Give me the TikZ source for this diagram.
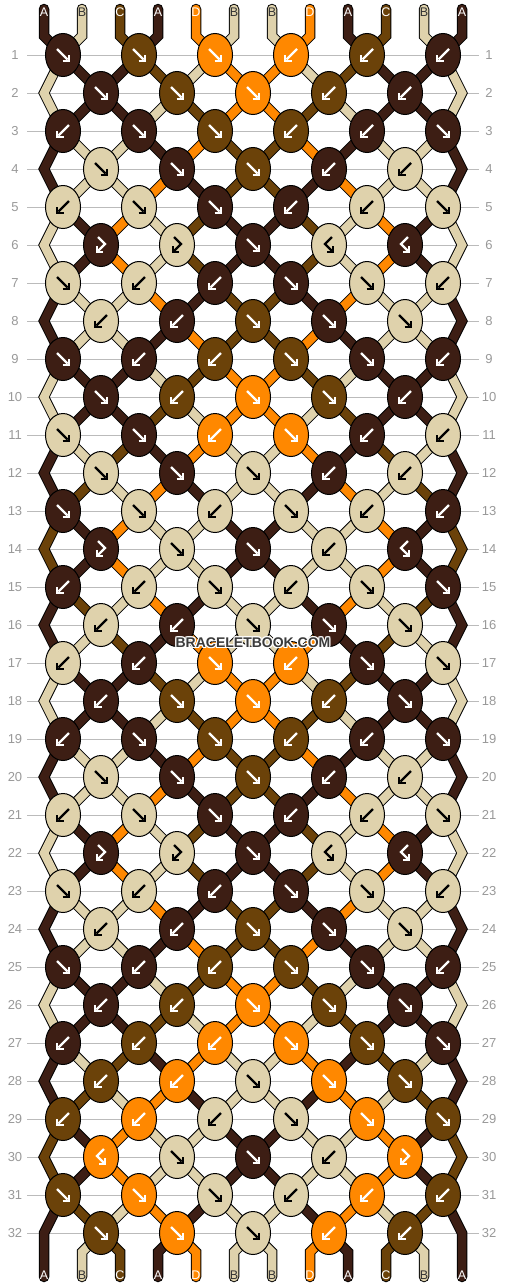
\documentclass[tikz,border=0pt]{standalone}
\usepackage{fontspec}
\setmainfont{Liberation Sans}
\usetikzlibrary{shapes.geometric}
\definecolor{colA}{HTML}{3D1E14}
\definecolor{colB}{HTML}{DFD2AC}
\definecolor{colC}{HTML}{6B4209}
\definecolor{colD}{HTML}{FF8800}
\definecolor{rowgray}{HTML}{BBBBBB}
\definecolor{numgray}{HTML}{999999}
\definecolor{wmgray}{HTML}{3A3A3A}

\newcommand\getP[2]{%
  \pgfmathsetmacro\py{55+38*((#1)-1)}%
  \pgfmathtruncatemacro\myodd{mod(#1,2)}%
  \pgfmathtruncatemacro\mypos{#2}%
  \ifnum\myodd=1\relax
    \pgfmathsetmacro\px{63+76*floor((\mypos-1)/2)}%
  \else
    \ifnum\mypos=1\relax \def\px{44}%
    \else\ifnum\mypos=12\relax \def\px{462}%
    \else \pgfmathsetmacro\px{101+76*floor((\mypos-2)/2)}%
    \fi\fi
  \fi}

\newcommand\drawstrings{%
\foreach \r/\st in {
 0/{A,B,C,A,D,B,B,D,A,C,B,A},
 1/{B,A,A,C,B,D,D,B,C,A,A,B},
 2/{B,A,A,B,C,D,D,C,B,A,A,B},
 3/{A,B,B,A,D,C,C,D,A,B,B,A},
 4/{A,B,B,D,A,C,C,A,D,B,B,A},
 5/{B,A,D,B,C,A,A,C,B,D,A,B},
 6/{B,A,D,B,C,A,A,C,B,D,A,B},
 7/{A,B,B,D,A,C,C,A,D,B,B,A},
 8/{A,B,B,A,D,C,C,D,A,B,B,A},
 9/{B,A,A,B,C,D,D,C,B,A,A,B},
 10/{B,A,A,C,B,D,D,B,C,A,A,B},
 11/{A,B,C,A,D,B,B,D,A,C,B,A},
 12/{A,C,B,D,A,B,B,A,D,B,C,A},
 13/{C,A,D,B,B,A,A,B,B,D,A,C},
 14/{C,A,D,B,B,A,A,B,B,D,A,C},
 15/{A,C,B,D,A,B,B,A,D,B,C,A},
 16/{A,B,C,A,D,B,B,D,A,C,B,A},
 17/{B,A,A,C,B,D,D,B,C,A,A,B},
 18/{B,A,A,B,C,D,D,C,B,A,A,B},
 19/{A,B,B,A,D,C,C,D,A,B,B,A},
 20/{A,B,B,D,A,C,C,A,D,B,B,A},
 21/{B,A,D,B,C,A,A,C,B,D,A,B},
 22/{B,A,D,B,C,A,A,C,B,D,A,B},
 23/{A,B,B,D,A,C,C,A,D,B,B,A},
 24/{A,B,B,A,D,C,C,D,A,B,B,A},
 25/{B,A,A,B,C,D,D,C,B,A,A,B},
 26/{B,A,A,C,B,D,D,B,C,A,A,B},
 27/{A,B,C,A,D,B,B,D,A,C,B,A},
 28/{A,C,B,D,A,B,B,A,D,B,C,A},
 29/{C,A,D,B,B,A,A,B,B,D,A,C},
 30/{C,A,D,B,B,A,A,B,B,D,A,C},
 31/{A,C,B,D,A,B,B,A,D,B,C,A},
 32/{A,B,C,A,D,B,B,D,A,C,B,A}} {%
  \pgfmathtruncatemacro\rprev{\r-1}%
  \pgfmathtruncatemacro\rnext{\r+1}%
  \pgfmathtruncatemacro\reven{1-mod(\r,2)}%
  \foreach \c [count=\p] in \st {%
    \pgfmathsetmacro\sx{44+38*(\p-1)}%
    \ifnum\r=0\relax
      \getP{1}{\p}%
      \draw[seg\c] (\sx,9) -- (\sx,36) -- (\px,\py);
    \else
      \ifnum\p=1\relax \def\edge{1}\else\ifnum\p=12\relax \def\edge{1}\else\def\edge{0}\fi\fi
      \ifnum\edge=1\relax
        \ifnum\reven=1\relax
          \getP{\rprev}{\p}\let\xa\px\let\ya\py
          \getP{\r}{\p}\let\xb\px\let\yb\py
          \ifnum\r=32\relax
            \draw[seg\c] (\xa,\ya) -- (\xb,\yb) -- (\sx,1277);
          \else
            \getP{\rnext}{\p}%
            \draw[seg\c] (\xa,\ya) -- (\xb,\yb) -- (\px,\py);
          \fi
        \fi
      \else
        \getP{\r}{\p}\let\xa\px\let\ya\py
        \ifnum\r=32\relax
          \draw[seg\c] (\xa,\ya) -- (\sx,1252) -- (\sx,1277);
        \else
          \getP{\rnext}{\p}%
          \draw[seg\c] (\xa,\ya) -- (\px,\py);
        \fi
      \fi
    \fi
  }%
}}

\newcommand\arrF{\draw (-6,-6) -- (4.5,4.5); \draw (-0.5,6) -- (6,6) -- (6,-0.5);}
\newcommand\arrB{\draw (6,-6) -- (-4.5,4.5); \draw (0.5,6) -- (-6,6) -- (-6,-0.5);}
\newcommand\arrFB{\draw (-3,-8) -- (4,-1) -- (-3,6); \draw (-4,1) -- (-4,7) -- (2,7);}
\newcommand\arrBF{\draw (3,-8) -- (-4,-1) -- (3,6); \draw (4,1) -- (4,7) -- (-2,7);}

\tikzset{
  outl/.style={draw=black,line width=10.5pt,line cap=round,line join=miter},
  knot/.style={ellipse,draw=black,line width=1pt,minimum width=35pt,minimum height=43pt,inner sep=0pt},
  arrow base/.style={line width=2.4pt,line cap=butt,line join=miter},
  arrA/.style={arrow base,draw=white},
  arrB/.style={arrow base,draw=black},
  arrC/.style={arrow base,draw=white},
  arrD/.style={arrow base,draw=white},
  rowline/.style={draw=rowgray,line width=1pt},
  rownum/.style={text=numgray,font=\fontsize{13pt}{13pt}\selectfont,inner sep=0pt},
  strlab/.style={font=\fontsize{12.5pt}{12.5pt}\selectfont,inner sep=0pt},
  wm/.style={font=\bfseries\fontsize{14pt}{14pt}\selectfont,inner sep=0pt}
}

\begin{document}
\begin{tikzpicture}[x=1pt,y=-1pt]
\fill[white] (0,0) rectangle (506,1288);
\useasboundingbox (0,0) rectangle (506,1288);

% row guide lines and numbers
\foreach \r in {1,...,32} {
  \pgfmathsetmacro\ky{55+38*(\r-1)}
  \draw[rowline] (27,\ky) -- (479,\ky);
  \node[rownum] (L\r) at (15,\ky) {\r};
  \node[rownum] (R\r) at (489,\ky) {\r};
}

% strings: outline pass then colour pass
\tikzset{segA/.style={outl},segB/.style={outl},segC/.style={outl},segD/.style={outl}}
\drawstrings
\tikzset{
  segA/.style={draw=colA,line width=8.5pt,line cap=round,line join=miter},
  segB/.style={draw=colB,line width=8.5pt,line cap=round,line join=miter},
  segC/.style={draw=colC,line width=8.5pt,line cap=round,line join=miter},
  segD/.style={draw=colD,line width=8.5pt,line cap=round,line join=miter}}
\drawstrings

% string end labels
\foreach \c [count=\p] in {A,B,C,A,D,B,B,D,A,C,B,A} {
  \pgfmathsetmacro\sx{44+38*(\p-1)}
  \ifnum\pdfstrcmp{\c}{B}=0 \def\lc{black!80}\else\def\lc{white}\fi
  \node[strlab,text=\lc] (top\p) at (\sx,12.5) {\c};
  \node[strlab,text=\lc] (bot\p) at (\sx,1275.5) {\c};
}

% knots
\foreach \r/\kl in {
 1/{A/F,C/F,D/F,D/B,C/B,A/B},
 2/{A/F,C/F,D/F,C/B,A/B},
 3/{A/B,A/F,C/F,C/B,A/B,A/F},
 4/{B/F,A/F,C/F,A/B,B/B},
 5/{B/B,B/F,A/F,A/B,B/B,B/F},
 6/{A/FB,B/FB,A/F,B/BF,A/BF},
 7/{B/F,B/B,A/B,A/F,B/F,B/B},
 8/{B/B,A/B,C/F,A/F,B/F},
 9/{A/F,A/B,C/B,C/F,A/F,A/B},
 10/{A/F,C/B,D/F,C/F,A/B},
 11/{B/F,A/F,D/B,D/F,A/B,B/B},
 12/{B/F,A/F,B/F,A/B,B/B},
 13/{A/F,B/F,B/B,B/F,B/B,A/B},
 14/{A/FB,B/F,A/F,B/B,A/BF},
 15/{A/B,B/B,B/F,B/B,B/F,A/F},
 16/{B/B,A/B,B/F,A/F,B/F},
 17/{B/B,A/B,D/F,D/B,A/F,B/F},
 18/{A/B,C/F,D/F,C/B,A/F},
 19/{A/B,A/F,C/F,C/B,A/B,A/F},
 20/{B/F,A/F,C/F,A/B,B/B},
 21/{B/B,B/F,A/F,A/B,B/B,B/F},
 22/{A/FB,B/FB,A/F,B/BF,A/BF},
 23/{B/F,B/B,A/B,A/F,B/F,B/B},
 24/{B/B,A/B,C/F,A/F,B/F},
 25/{A/F,A/B,C/B,C/F,A/F,A/B},
 26/{A/B,C/B,D/F,C/F,A/F},
 27/{A/B,C/B,D/B,D/F,C/F,A/F},
 28/{C/B,D/B,B/F,D/F,C/F},
 29/{C/B,D/B,B/B,B/F,D/F,C/F},
 30/{D/BF,B/F,A/F,B/B,D/FB},
 31/{C/F,D/F,B/F,B/B,D/B,C/B},
 32/{C/F,D/F,B/F,D/B,C/B}} {
  \pgfmathtruncatemacro\myodd{mod(\r,2)}
  \pgfmathsetmacro\ky{55+38*(\r-1)}
  \foreach \kc/\kt [count=\k] in \kl {
    \ifnum\myodd=1\relax
      \pgfmathsetmacro\kx{63+76*(\k-1)}
    \else
      \pgfmathsetmacro\kx{101+76*(\k-1)}
    \fi
    \node[knot,fill=col\kc] (k-\r-\k) at (\kx,\ky) {};
    \begin{scope}[shift={(\kx,\ky)},arr\kc]
      \csname arr\kt\endcsname
    \end{scope}
  }
}

% watermark
\foreach \dx/\dy in {1/0,-1/0,0/1,0/-1,1/1,1/-1,-1/1,-1/-1} {
  \node[wm,text=white] at (253+\dx,643+\dy) {BRACELETBOOK.COM};
}
\node[wm,text=wmgray] (wm) at (253,643) {BRACELETBOOK.COM};
\end{tikzpicture}
\end{document}
